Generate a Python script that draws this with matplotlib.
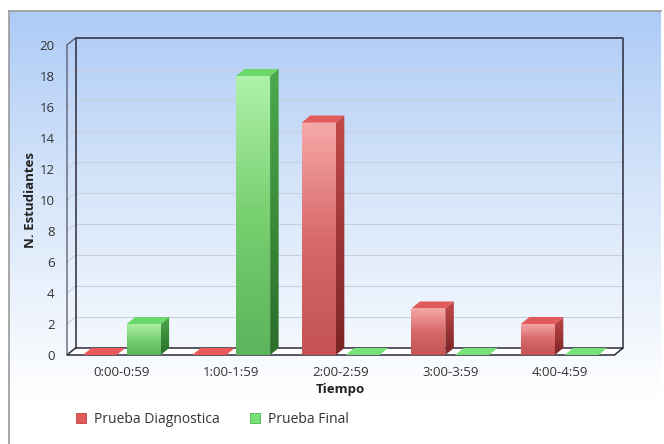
import numpy as np
import matplotlib.pyplot as plt
from matplotlib.patches import Polygon, Rectangle
from matplotlib.colors import LinearSegmentedColormap

categories = ['0:00-0:59', '1:00-1:59', '2:00-2:59', '3:00-3:59', '4:00-4:59']
diagnostica = [0, 0, 15, 3, 2]
final = [2, 18, 0, 0, 0]
series_names = ['Prueba Diagnostica', 'Prueba Final']
y_ticks = list(range(0, 21, 2))

plt.rcParams['font.family'] = ['Open Sans', 'DejaVu Sans']

W, H = 664, 444
fig = plt.figure(figsize=(W / 100, H / 100), dpi=100)

# background panel with blue -> white gradient
bg = fig.add_axes([9 / W, 0, (661 - 9) / W, (H - 11) / H])
grad = np.linspace(0, 1, 256).reshape(-1, 1)
bg_cmap = LinearSegmentedColormap.from_list('bg', [(0, '#adcbf7'), (0.45, '#d9e7fa'), (0.9, '#ffffff'), (1, '#ffffff')])
bg.imshow(grad, aspect='auto', cmap=bg_cmap, extent=(0, 1, 0, 1))
bg.set_xlim(0, 1)
bg.set_ylim(0, 1)
for s in ['top', 'left']:
    bg.spines[s].set_color('#9a9a9a')
    bg.spines[s].set_linewidth(1.2)
for s in ['right', 'bottom']:
    bg.spines[s].set_visible(False)
bg.set_xticks([])
bg.set_yticks([])
bg.set_zorder(0)

# main axes: front plane of the 3d box
x0_px, x1_px = 67, 614.5
ytop_px, ybot_px = 45, 355
ax = fig.add_axes([x0_px / W, (H - ybot_px) / H, (x1_px - x0_px) / W, (ybot_px - ytop_px) / H])
ax.set_zorder(1)
ax.patch.set_alpha(0)
for s in ax.spines.values():
    s.set_visible(False)

# depth of the 3d effect converted to data units
dx = 8.5 / ((x1_px - x0_px) / len(categories))
dy = 7 / ((ybot_px - ytop_px) / 20)

xl, xr = -0.5, len(categories) - 0.5
line_kw = dict(color='#2b2b3a', lw=1.1, zorder=2, clip_on=False)

# back wall gridlines
for t in y_ticks[1:-1]:
    ax.plot([xl + dx, xr + dx], [t + dy, t + dy], color='#c8d0dc', lw=0.8, zorder=1, clip_on=False)
    ax.plot([xl, xl + dx], [t, t + dy], color='#c8d0dc', lw=0.8, zorder=1, clip_on=False)

# floor
ax.add_patch(Polygon([(xl, 0), (xr, 0), (xr + dx, dy), (xl + dx, dy)], closed=True,
                     facecolor='white', edgecolor='#2b2b3a', lw=1.1, zorder=2, clip_on=False))
# back wall frame
ax.plot([xl + dx, xl + dx, xr + dx, xr + dx], [dy, 20 + dy, 20 + dy, dy], **line_kw)
# left wall
ax.plot([xl, xl, xl + dx], [0, 20, 20 + dy], color='#555566', lw=0.9, zorder=2, clip_on=False)

bar_w = 0.31
offsets = [-0.2, 0.2]
styles = [
    dict(top='#e25a5a', front=['#f7a8a8', '#d86a6a', '#c45252'], side=['#c44a4a', '#7a2424'], flat='#ea5a5a'),
    dict(top='#6ad86a', front=['#b0f2aa', '#78d070', '#5cb45c'], side=['#4caa4c', '#2a6e2a'], flat='#77e277'),
]

for vals, off, st in zip([diagnostica, final], offsets, styles):
    fcmap = LinearSegmentedColormap.from_list('f', st['front'][::-1])
    scmap = LinearSegmentedColormap.from_list('s', st['side'][::-1])
    for i, v in enumerate(vals):
        bx0 = i + off - bar_w / 2
        bx1 = i + off + bar_w / 2
        if v == 0:
            ax.add_patch(Polygon([(bx0, 0), (bx1, 0), (bx1 + dx, dy), (bx0 + dx, dy)], closed=True,
                                 facecolor=st['flat'], edgecolor='none', zorder=3, clip_on=False))
            continue
        # front face with vertical gradient
        im = ax.imshow(grad, aspect='auto', cmap=fcmap, extent=(bx0, bx1, 0, v), zorder=4, origin='lower')
        rect = Rectangle((bx0, 0), bar_w, v, transform=ax.transData)
        im.set_clip_path(rect)
        # side face
        side = Polygon([(bx1, 0), (bx1 + dx, dy), (bx1 + dx, v + dy), (bx1, v)], closed=True,
                       facecolor='none', edgecolor='none', zorder=4, clip_on=False)
        ax.add_patch(side)
        im2 = ax.imshow(grad, aspect='auto', cmap=scmap, extent=(bx1, bx1 + dx, 0, v + dy), zorder=4, origin='lower')
        im2.set_clip_path(side)
        # top face
        ax.add_patch(Polygon([(bx0, v), (bx1, v), (bx1 + dx, v + dy), (bx0 + dx, v + dy)], closed=True,
                             facecolor=st['top'], edgecolor='none', zorder=4, clip_on=False))

ax.set_xlim(-0.5, len(categories) - 0.5)
ax.set_ylim(0, 20)

ax.set_yticks(y_ticks)
ax.set_yticklabels([str(t) for t in y_ticks], fontsize=9.5, color='#333333')
ax.set_xticks(range(len(categories)))
ax.set_xticklabels(categories, fontsize=9.5, color='#333333')
ax.tick_params(axis='y', length=0, pad=9)
ax.tick_params(axis='x', length=0, pad=8)
ax.set_xlabel('Tiempo', fontsize=9.5, fontweight='bold', color='#222222', labelpad=3)
ax.set_ylabel('N. Estudiantes', fontsize=9.5, fontweight='bold', color='#222222', labelpad=2)

# legend
handles = [Rectangle((0, 0), 1, 1, facecolor='#e25a5a', edgecolor='#c04040', lw=0.6),
           Rectangle((0, 0), 1, 1, facecolor='#77e277', edgecolor='#50b050', lw=0.6)]
fig.legend(handles, series_names, loc='center left', bbox_to_anchor=(63 / W, 1 - 419 / H), ncol=2,
           frameon=False, fontsize=10, handlelength=0.75, handleheight=0.75, handletextpad=0.55,
           columnspacing=2.2, labelcolor='#333333')

fig.savefig('out.png', dpi=100)
